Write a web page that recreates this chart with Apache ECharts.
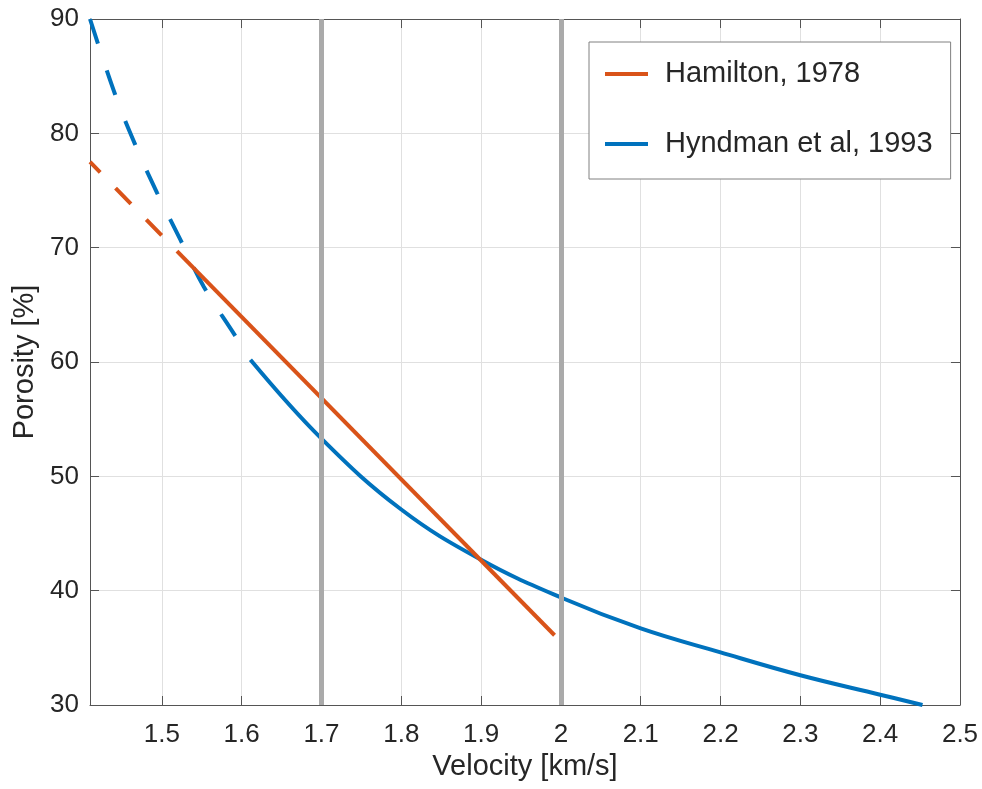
<!DOCTYPE html>
<html>
<head>
<meta charset="utf-8">
<script src="https://cdn.jsdelivr.net/npm/echarts@6/dist/echarts.min.js"></script>
<style>
  html, body { margin: 0; padding: 0; background: #ffffff; }
  #chart { width: 982px; height: 789px; }
</style>
</head>
<body>
<div id="chart"></div>
<script>
// Velocity axis range and tick positions (km/s)
const velocityMin = 1.41;
const velocityMax = 2.5;
const velocityTicks = [1.5, 1.6, 1.7, 1.8, 1.9, 2.0, 2.1, 2.2, 2.3, 2.4, 2.5];

// Porosity axis range (%)
const porosityMin = 30;
const porosityMax = 90;
const porosityStep = 10;

// Hamilton (1978): extrapolated part and fitted part, [velocity, porosity]
const hamiltonExtrapolated = [[1.41, 77.5], [1.519, 69.7]];
const hamiltonFitted = [[1.519, 69.7], [1.992, 36.1]];

// Hyndman et al (1993): extrapolated part and fitted part, [velocity, porosity]
const hyndmanExtrapolated = [
  [1.41, 90.0], [1.4415, 83.4], [1.4667, 79.0], [1.494, 74.8],
  [1.5232, 70.7], [1.5524, 66.6], [1.59, 62.5], [1.611, 60.2]
];
const hyndmanFitted = [
  [1.611, 60.2], [1.7, 53.3], [1.8, 47.1], [1.9, 42.7], [2.0, 39.4],
  [2.1, 36.7], [2.2, 34.6], [2.3, 32.6], [2.4, 30.9], [2.453, 30.0]
];

// Vertical reference velocities (km/s)
const referenceVelocities = [1.7, 2.0];

const HAMILTON = 'Hamilton, 1978';
const HYNDMAN = 'Hyndman et al, 1993';
const orange = '#D95319';
const blue = '#0072BD';
const axisColor = '#555555';
const textColor = '#262626';
const fontFamily = '"Liberation Sans", Arial, Helvetica, sans-serif';

const chart = echarts.init(document.getElementById('chart'), null, { renderer: 'canvas' });

const boxAxisLine = { show: true, onZero: false, lineStyle: { color: axisColor, width: 1 } };

function curveSeries(name, data, color, dash, dashOffset, z) {
  return {
    name: name,
    type: 'line',
    data: data,
    xAxisIndex: 0,
    yAxisIndex: 0,
    showSymbol: false,
    symbol: 'none',
    smooth: data.length > 2 ? 0.4 : false,
    clip: true,
    z: z,
    itemStyle: { color: color },
    lineStyle: {
      color: color,
      width: 4,
      type: dash || 'solid',
      dashOffset: dashOffset || 0,
      cap: 'butt'
    },
    emphasis: { disabled: true }
  };
}

const option = {
  animation: false,
  backgroundColor: '#ffffff',
  textStyle: { fontFamily: fontFamily },
  grid: { left: 90, right: 22, top: 19, bottom: 84, containLabel: false },
  legend: {
    data: [HAMILTON, HYNDMAN],
    orient: 'vertical',
    left: 589,
    top: 42,
    padding: [17, 18, 20, 16],
    itemGap: 40,
    itemWidth: 43,
    itemHeight: 4,
    icon: 'rect',
    backgroundColor: '#ffffff',
    borderColor: '#808080',
    borderWidth: 1,
    borderRadius: 0,
    selectedMode: false,
    textStyle: {
      fontSize: 29,
      color: textColor,
      fontFamily: fontFamily,
      lineHeight: 30,
      padding: [0, 0, 0, 12]
    }
  },
  xAxis: [
    {
      type: 'value',
      position: 'bottom',
      min: velocityMin,
      max: velocityMax,
      name: 'Velocity [km/s]',
      nameLocation: 'middle',
      nameGap: 45,
      nameTextStyle: { fontSize: 29, color: textColor, fontFamily: fontFamily },
      axisLine: boxAxisLine,
      axisTick: { show: true, inside: true, length: 9, customValues: velocityTicks,
                  lineStyle: { color: axisColor, width: 1 } },
      axisLabel: { show: true, customValues: velocityTicks, margin: 17,
                   fontSize: 26, color: textColor, fontFamily: fontFamily,
                   formatter: function (v) { return String(Math.round(v * 10) / 10); } },
      splitLine: { show: true, lineStyle: { color: '#e0e0e0', width: 1 } }
    },
    {
      type: 'value',
      position: 'top',
      min: velocityMin,
      max: velocityMax,
      axisLine: boxAxisLine,
      axisTick: { show: true, inside: true, length: 9, customValues: velocityTicks,
                  lineStyle: { color: axisColor, width: 1 } },
      axisLabel: { show: false },
      splitLine: { show: false }
    }
  ],
  yAxis: [
    {
      type: 'value',
      position: 'left',
      min: porosityMin,
      max: porosityMax,
      interval: porosityStep,
      name: 'Porosity [%]',
      nameLocation: 'middle',
      nameGap: 46,
      nameTextStyle: { fontSize: 29, color: textColor, fontFamily: fontFamily },
      axisLine: boxAxisLine,
      axisTick: { show: true, inside: true, length: 9, lineStyle: { color: axisColor, width: 1 } },
      axisLabel: { show: true, margin: 11, fontSize: 26, color: textColor, fontFamily: fontFamily },
      splitLine: { show: true, lineStyle: { color: '#e0e0e0', width: 1 } }
    },
    {
      type: 'value',
      position: 'right',
      min: porosityMin,
      max: porosityMax,
      interval: porosityStep,
      axisLine: boxAxisLine,
      axisTick: { show: true, inside: true, length: 9, lineStyle: { color: axisColor, width: 1 } },
      axisLabel: { show: false },
      splitLine: { show: false }
    }
  ],
  series: [
    curveSeries(HYNDMAN + ' (extrapolated)', hyndmanExtrapolated, blue, [26, 28], 0, 3),
    curveSeries(HYNDMAN, hyndmanFitted, blue, 'solid', 0, 3),
    curveSeries(HAMILTON + ' (extrapolated)', hamiltonExtrapolated, orange, [22, 22], 7.4, 4),
    curveSeries(HAMILTON, hamiltonFitted, orange, 'solid', 0, 4),
    {
      name: 'reference velocities',
      type: 'line',
      data: [],
      z: 6,
      markLine: {
        silent: true,
        symbol: ['none', 'none'],
        label: { show: false },
        lineStyle: { color: '#aaaaaa', width: 5, type: 'solid' },
        emphasis: { disabled: true },
        data: referenceVelocities.map(function (v) { return { xAxis: v }; })
      }
    }
  ]
};

chart.setOption(option);
</script>
</body>
</html>
